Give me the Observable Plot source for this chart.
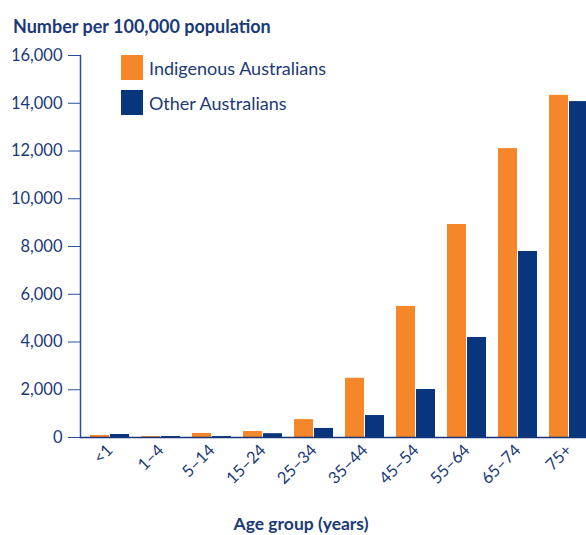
<!DOCTYPE html>
<html>
<head>
<meta charset="utf-8">
<script src="https://cdn.jsdelivr.net/npm/d3@7"></script>
<script src="https://cdn.jsdelivr.net/npm/@observablehq/plot@0.6"></script>
<style>
  html, body { margin: 0; padding: 0; background: #fff; overflow: hidden; }
  #wrap { position: relative; width: 586px; height: 535px; font-family: Lato, "Open Sans", sans-serif; color: #1b3a78; }
  #title { position: absolute; left: 13px; top: 15px; font-size: 18px; font-weight: bold; white-space: nowrap; }
  #xlabel { position: absolute; left: 201px; width: 200px; top: 513px; text-align: center; font-size: 17.5px; font-weight: bold; white-space: nowrap; line-height: 22px; }
  #legend { position: absolute; left: 121px; top: 50px; }
  .row { display: flex; align-items: center; height: 35px; }
  .sw { width: 22px; height: 25px; margin-right: 6px; }
  .lab { font-size: 18px; white-space: nowrap; }
  svg { display: block; }
</style>
</head>
<body>
<div id="wrap">
  <div id="chart"></div>
  <div id="title">Number per 100,000 population</div>
  <div id="legend"></div>
  <div id="xlabel">Age group (years)</div>
</div>
<script>
const ages = ["<1", "1–4", "5–14", "15–24", "25–34", "35–44", "45–54", "55–64", "65–74", "75+"];
const indigenous = [85, 40, 170, 250, 750, 2480, 5490, 8920, 12100, 14330];
const other = [125, 40, 40, 160, 380, 920, 2010, 4190, 7790, 14070];
const seriesNames = ["Indigenous Australians", "Other Australians"];
const seriesColors = ["#f5862a", "#08357b"];
const yTicks = [0, 2000, 4000, 6000, 8000, 10000, 12000, 14000, 16000];

const navy = "#1b3a78";
const axisBlue = "#2a4e9c";
const dataI = ages.map((a, i) => ({age: a, value: indigenous[i]}));
const dataO = ages.map((a, i) => ({age: a, value: other[i]}));

const chart = Plot.plot({
  width: 586,
  height: 535,
  marginLeft: 80,
  marginRight: -13,
  marginTop: 55,
  marginBottom: 98,
  style: {fontFamily: "Lato, 'Open Sans', sans-serif", fontSize: "16.5px", color: navy, background: "white", overflow: "hidden"},
  x: {domain: ages, paddingInner: 0.23, paddingOuter: 0.115},
  y: {domain: [0, 16000]},
  marks: [
    Plot.barY(dataI, {x: "age", y: "value", fill: seriesColors[0], insetRight: 20}),
    Plot.barY(dataO, {x: "age", y: "value", fill: seriesColors[1], insetLeft: 20}),
    Plot.axisY(yTicks, {label: null, tickSize: 12, tickPadding: 6, stroke: axisBlue, tickFormat: d => d3.format(",")(d)}),
    Plot.axisX({label: null, tickRotate: -45, tickSize: 0, tickPadding: 10}),
    Plot.ruleY([0], {stroke: "#15367a", strokeWidth: 1.5}),
    Plot.frame({anchor: "left", stroke: axisBlue, strokeWidth: 1.5})
  ]
});
document.getElementById("chart").appendChild(chart);

const legend = document.getElementById("legend");
seriesNames.forEach((n, i) => {
  const row = document.createElement("div");
  row.className = "row";
  row.innerHTML = `<div class="sw" style="background:${seriesColors[i]}"></div><div class="lab">${n}</div>`;
  legend.appendChild(row);
});
</script>
</body>
</html>
